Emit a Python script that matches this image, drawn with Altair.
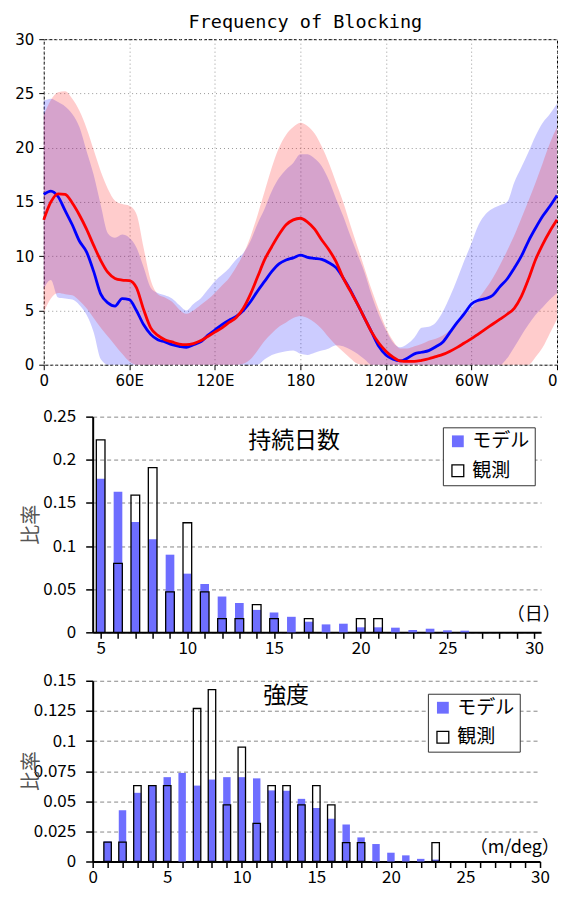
import altair as alt
import pandas as pd

# ---------------- top panel data (longitude every 5 degrees) ----------------
lon = list(range(0, 361, 5))
blue_line = [15.7, 16.0, 15.5, 14.2, 12.9, 11.4, 10.4, 8.6, 6.5, 5.7, 5.4, 6.1, 6.0, 5.0, 3.7, 2.8, 2.3, 2.1,
             1.85, 1.7, 1.6, 1.85, 2.1, 2.7, 3.2, 3.7, 4.1, 4.45, 5.0, 5.8, 6.8, 7.7, 8.6, 9.3, 9.65, 9.85,
             10.1, 9.9, 9.8, 9.7, 9.4, 8.95, 8.0, 6.9, 5.6, 4.3, 3.0, 1.7, 0.9, 0.5, 0.35, 0.6, 1.0, 1.15,
             1.3, 1.65, 2.1, 3.0, 3.9, 4.7, 5.6, 5.95, 6.1, 6.4, 7.2, 7.9, 8.9, 10.0, 11.4, 12.6, 13.7, 14.6,
             15.6]
red_line = [13.35, 15.0, 15.75, 15.7, 14.9, 13.8, 12.5, 11.0, 9.6, 8.5, 7.95, 7.8, 7.75, 7.1, 5.1, 3.4, 2.7, 2.3,
            2.1, 1.9, 1.85, 1.95, 2.2, 2.6, 3.0, 3.4, 3.9, 4.35, 5.2, 6.5, 8.1, 9.7, 10.9, 12.0, 12.9, 13.35,
            13.5, 13.15, 12.5, 11.5, 10.6, 9.5, 8.0, 6.8, 5.6, 4.3, 3.0, 2.0, 1.25, 0.7, 0.35, 0.3, 0.3, 0.4,
            0.55, 0.75, 0.95, 1.25, 1.6, 2.0, 2.4, 2.85, 3.3, 3.75, 4.2, 4.65, 5.2, 6.3, 7.9, 9.7, 11.1, 12.3,
            13.35]
blue_upper = [24.3, 24.5, 24.2, 23.8, 23.1, 21.9, 19.7, 17.5, 14.7, 12.1, 11.7, 12.0, 11.7, 10.8, 9.0, 7.1, 6.6, 6.4,
              6.1, 5.5, 5.0, 5.6, 6.1, 6.9, 7.7, 8.3, 8.9, 9.7, 10.3, 11.4, 13.0, 14.4, 16.0, 17.2, 18.0, 18.6,
              19.4, 19.4, 19.0, 18.3, 17.0, 15.3, 13.7, 11.9, 10.2, 8.5, 6.4, 4.6, 3.2, 2.05, 1.6, 1.9, 2.5, 3.4,
              3.5, 3.9, 4.9, 6.3, 7.9, 9.6, 11.2, 12.9, 13.9, 14.4, 14.7, 15.0, 16.8, 18.2, 19.6, 21.1, 22.3, 23.1,
              24.05]
blue_lower = [7.0, 7.8, 6.2, 6.1, 6.0, 5.5, 4.6, 3.0, 0.5, 0, 0, 0, 0, 0, 0, 0, 0, 0,
              0, 0, 0, 0, 0, 0, 0, 0, 0, 0, 0, 0, 0, 0.5, 0.9, 1.1, 1.25, 1.3,
              1.0, 0.9, 1.1, 1.3, 1.5, 1.8, 1.7, 1.4, 1.0, 0.5, 0, 0, 0, 0, 0, 0, 0, 0,
              0, 0, 0, 0, 0, 0, 0, 0, 0, 0, 0, 0.6, 1.6, 2.7, 3.7, 4.6, 5.3, 6.0,
              6.6]
red_upper = [23.0, 24.4, 25.1, 25.2, 24.5, 23.4, 21.8, 19.8, 17.8, 16.2, 15.1, 14.8, 14.65, 13.9, 10.8, 7.8, 6.5, 6.2,
             5.8, 5.1, 4.7, 5.0, 5.5, 6.0, 6.6, 7.3, 8.0, 9.0, 10.2, 11.8, 13.8, 16.0, 18.2, 20.0, 21.2, 21.9,
             22.3, 22.0, 21.3, 20.1, 18.6, 16.8, 15.0, 12.9, 10.9, 8.9, 6.9, 5.1, 3.4, 2.2, 1.5, 1.5, 1.7, 1.9,
             2.2, 2.4, 2.7, 3.2, 3.8, 4.5, 5.2, 6.1, 7.0, 8.0, 9.2, 10.5, 11.9, 13.5, 15.1, 16.8, 18.6, 20.4,
             21.9]
red_lower = [4.8, 6.1, 6.6, 6.5, 6.4, 5.9, 5.2, 4.3, 3.4, 2.6, 1.8, 1.0, 0.3, 0, 0, 0, 0, 0,
             0, 0, 0, 0, 0, 0, 0, 0, 0, 0, 0.1, 0.5, 1.3, 2.2, 2.9, 3.5, 3.9, 4.3,
             4.5, 4.3, 3.9, 3.3, 2.5, 1.8, 1.2, 0.6, 0.1, 0, 0, 0, 0, 0, 0, 0, 0, 0,
             0, 0, 0, 0, 0, 0, 0, 0, 0, 0, 0, 0, 0, 0, 0, 0.7, 1.6, 2.9,
             4.2]
lon_ticks = [0, 60, 120, 180, 240, 300, 360]
lon_labels = ["0", "60E", "120E", "180", "120W", "60W", "0"]
freq_ticks = [0, 5, 10, 15, 20, 25, 30]

# ---------------- histogram data ----------------
dur_days = list(range(5, 31))
dur_model = [0.178, 0.163, 0.128, 0.108, 0.090, 0.068, 0.056, 0.0415, 0.034, 0.026, 0.023, 0.018, 0.0123,
             0.0092, 0.010, 0.0058, 0.0058, 0.0054, 0.0027, 0.0042, 0.0023, 0.0019, 0, 0, 0, 0]
dur_obs = [0.223, 0.080, 0.159, 0.191, 0.047, 0.127, 0.047, 0.016, 0.016, 0.032, 0.016, 0, 0.016,
           0, 0, 0.016, 0.016, 0, 0, 0, 0, 0, 0, 0, 0, 0]
dur_yticks = [0, 0.05, 0.1, 0.15, 0.2, 0.25]

int_bins = list(range(1, 31))
int_model = [0.0167, 0.0426, 0.057, 0.063, 0.070, 0.0735, 0.063, 0.068, 0.070, 0.070, 0.069, 0.059, 0.0587,
             0.052, 0.0444, 0.0355, 0.0307, 0.020, 0.0145, 0.0073, 0.0051, 0.0022, 0.0016, 0, 0, 0, 0, 0, 0, 0]
int_obs = [0.016, 0.016, 0.063, 0.063, 0.063, 0, 0.127, 0.1427, 0.047, 0.095, 0.0317, 0.063, 0.063,
           0.047, 0.063, 0.047, 0.0156, 0.0156, 0, 0, 0, 0, 0.0156, 0, 0, 0, 0, 0, 0, 0]
int_yticks = [0, 0.025, 0.05, 0.075, 0.1, 0.125, 0.15]

kinds = ["モデル", "観測"]
JP = "Noto Sans CJK JP"
LAT = "DejaVu Sans"

# ---------------- top panel ----------------
top_df = pd.DataFrame({"lon": lon, "b": blue_line, "r": red_line, "bu": blue_upper,
                       "bl": blue_lower, "ru": red_upper, "rl": red_lower})

lab_expr = " : ".join(f"datum.value == {v} ? '{s}'" for v, s in zip(lon_ticks, lon_labels)) + " : ''"
xs_top = alt.X("lon:Q", scale=alt.Scale(domain=[0, 360], nice=False, zero=False),
               axis=alt.Axis(values=lon_ticks, labelExpr=lab_expr, title=None, grid=True,
                             gridDash=[1, 3], gridColor="#999999", gridWidth=1, domain=False,
                             tickColor="black", tickSize=5, labelPadding=4, labelFont=LAT,
                             labelFontSize=15, labelColor="black", labelFlush=False,
                             labelAlign=alt.condition("datum.value == 360", alt.value("right"),
                                                      alt.value("center"))))
ys_top = alt.Scale(domain=[0, 30], nice=False)
yax_top = alt.Axis(values=freq_ticks, title=None, grid=True, gridDash=[1, 3], gridColor="#999999",
                   gridWidth=1, domain=False, tickColor="black", tickSize=5, labelPadding=5,
                   labelFont=LAT, labelFontSize=15, labelColor="black")

base_top = alt.Chart(top_df)
blue_band = base_top.mark_area(color="#0000FF", opacity=0.2, interpolate="monotone").encode(
    x=xs_top, y=alt.Y("bu:Q", scale=ys_top, axis=yax_top), y2="bl:Q")
red_band = base_top.mark_area(color="#FF0000", opacity=0.2, interpolate="monotone").encode(
    x=xs_top, y=alt.Y("ru:Q", scale=ys_top, axis=yax_top), y2="rl:Q")
blue_ln = base_top.mark_line(color="#0000FF", strokeWidth=2.8, interpolate="monotone").encode(
    x=xs_top, y=alt.Y("b:Q", scale=ys_top, axis=yax_top))
red_ln = base_top.mark_line(color="#FF0000", strokeWidth=2.8, interpolate="monotone").encode(
    x=xs_top, y=alt.Y("r:Q", scale=ys_top, axis=yax_top))
title_txt = alt.Chart(pd.DataFrame({"t": ["Frequency of Blocking"]})).mark_text(
    font="DejaVu Sans Mono", fontSize=18.5, align="center", baseline="alphabetic", color="black").encode(
    x=alt.value(262), y=alt.value(-11.3), text="t:N")

top = alt.layer(blue_band, red_band, blue_ln, red_ln, title_txt).properties(
    width=514, height=326,
    view=alt.ViewBackground(stroke="black", strokeDash=[3, 2], strokeWidth=1))


# ---------------- histogram panels ----------------
def bar_panel(xs, model, obs, xdom, xvals, yticks, width, height, lx, ly, texts):
    rows = []
    for x, m, o in zip(xs, model, obs):
        rows.append({"x": x, "v": m, "kind": kinds[0]})
        rows.append({"x": x, "v": o, "kind": kinds[1]})
    df = pd.DataFrame(rows)
    leg = alt.Legend(title=None, orient="none", legendX=lx, legendY=ly, strokeColor="#333333",
                     fillColor="white", padding=4.5, rowPadding=9.5, labelFont=JP, labelFontSize=19,
                     labelColor="black", symbolType="square", symbolSize=140, symbolOffset=1,
                     labelOffset=5, symbolStrokeWidth=1.3)
    fill = alt.Fill("kind:N", scale=alt.Scale(domain=kinds, range=["#6E6EFF", "transparent"]), legend=leg)
    stroke = alt.Stroke("kind:N", scale=alt.Scale(domain=kinds, range=["transparent", "black"]), legend=leg)
    xenc = alt.X("x0:Q", scale=alt.Scale(domain=xdom, nice=False, zero=False),
                 axis=alt.Axis(values=xvals, format="d",
                               labelExpr="datum.value % 5 == 0 ? datum.label : ''",
                               title=None, grid=False, domainColor="black", domainWidth=2,
                               tickColor="black", tickWidth=1.5, tickSize=6, labelPadding=2,
                               labelFont=JP, labelFontSize=17, labelColor="black",
                               labelFlush=False, labelOverlap=False))
    yenc = alt.Y("v:Q", scale=alt.Scale(domain=[yticks[0], yticks[-1]], nice=False),
                 axis=alt.Axis(values=yticks, format=".3~g", title=None, grid=True, gridDash=[4, 3],
                               gridColor="#888888", gridWidth=1, domainColor="black", domainWidth=2,
                               tickColor="black", tickWidth=1.5, tickSize=7, labelPadding=10,
                               labelFont=JP, labelFontSize=17, labelColor="black"))
    base = alt.Chart(df).transform_filter("datum.v > 0").transform_calculate(
        x0="datum.x - 0.25", x1="datum.x + 0.25", zero="0")
    m_bars = base.transform_filter(f"datum.kind == '{kinds[0]}'").mark_bar(strokeWidth=1.3).encode(
        x=xenc, x2="x1:Q", y=yenc, y2="zero:Q", fill=fill, stroke=stroke)
    o_bars = base.transform_filter(f"datum.kind == '{kinds[1]}'").mark_bar(strokeWidth=1.3).encode(
        x=xenc, x2="x1:Q", y=yenc, y2="zero:Q", fill=fill, stroke=stroke)
    layers = [m_bars, o_bars]
    for (t, px, py, fs, col, ang) in texts:
        layers.append(alt.Chart(pd.DataFrame({"t": [t]})).mark_text(
            font=JP, fontSize=fs, align="center", baseline="middle", color=col, angle=ang).encode(
            x=alt.value(px), y=alt.value(py), text="t:N"))
    return alt.layer(*layers).properties(width=width, height=height)


mid = bar_panel(dur_days, dur_model, dur_obs, [4.54, 30.4], dur_days, dur_yticks, 449, 216, 350.7, 10.7,
                [("持続日数", 201.7, 24.6, 23, "black", 0),
                 ("（日）", 441.7, 199.0, 18, "black", 0),
                 ("比率", -61, 108.3, 20, "#555555", 270)])
bot = bar_panel(int_bins, int_model, int_obs, [0, 30], list(range(0, 31)), int_yticks, 448, 181, 335.7, 13.0,
                [("強度", 193.7, 15.3, 23, "black", 0),
                 ("（m/deg）", 422.7, 167.4, 18, "black", 0),
                 ("比率", -61, 90.5, 20, "#555555", 270)])

lower = alt.vconcat(mid, bot, spacing=48.5, bounds="flush").resolve_scale(
    fill="independent", stroke="independent").resolve_legend(fill="independent", stroke="independent")
spacer = alt.Chart(pd.DataFrame({"s": [0]})).mark_point(opacity=0).encode(
    x=alt.value(0), y=alt.value(0)).properties(width=49, height=10)
low_row = alt.hconcat(spacer, lower, spacing=0, bounds="flush")

chart = alt.vconcat(top, low_row, spacing=52, bounds="flush").properties(
    padding={"left": 5.8, "top": 3.6, "right": 0, "bottom": 3}).configure_view(stroke="transparent")

chart.save("out.html", embed_options={"renderer": "svg", "actions": False})
